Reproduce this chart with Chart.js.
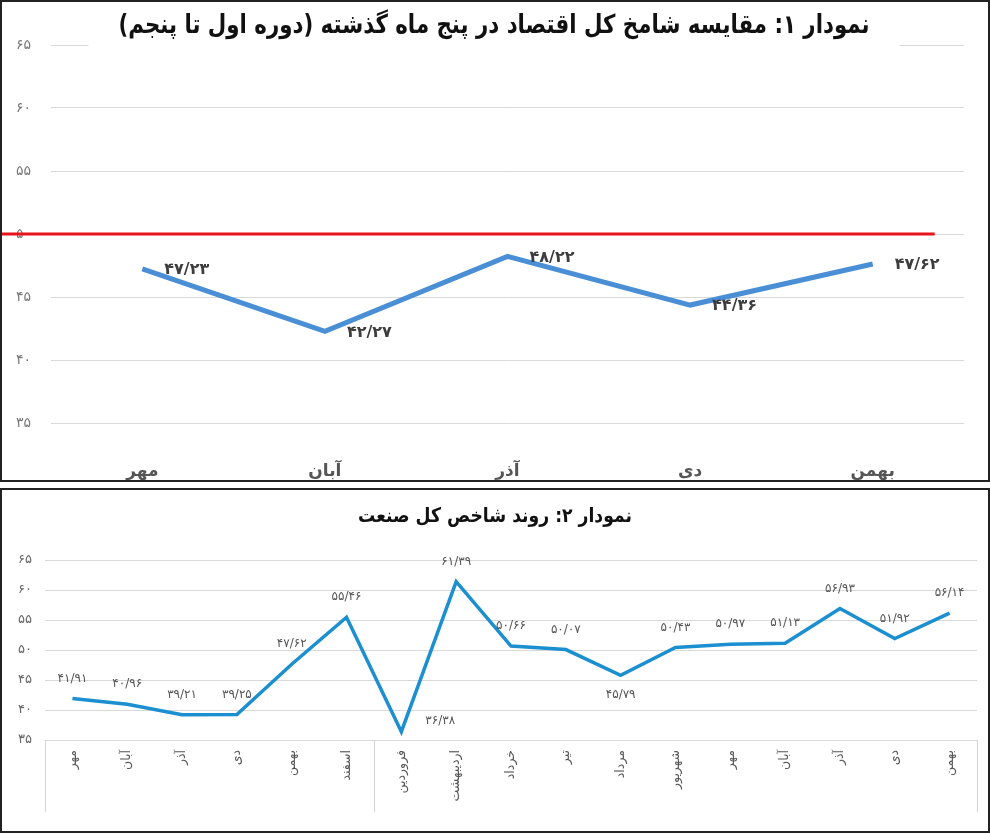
<!DOCTYPE html>
<html lang="fa">
<head>
<meta charset="utf-8">
<script src="https://cdn.jsdelivr.net/npm/chart.js@4.4.1/dist/chart.umd.min.js"></script>
<style>
  html, body { margin: 0; padding: 0; background: #fff; }
  .box { position: absolute; left: 0; width: 986px; border: 2px solid #222; background: #fff; }
  #box1 { top: 0; height: 478px; }
  #box2 { top: 488px; height: 341px; }
  canvas { display: block; }
</style>
</head>
<body>
<div class="box" id="box1"><canvas id="chart1" width="986" height="478"></canvas></div>
<div class="box" id="box2"><canvas id="chart2" width="986" height="341"></canvas></div>
<script>
const title1 = 'نمودار ۱: مقایسه شامخ کل اقتصاد در پنج ماه گذشته (دوره اول تا پنجم)';
const months1 = ['مهر', 'آبان', 'آذر', 'دی', 'بهمن'];
const values1 = [47.23, 42.27, 48.22, 44.36, 47.62];
const threshold1 = 50;

const title2 = 'نمودار ۲: روند شاخص کل صنعت';
const months2 = ['مهر', 'آبان', 'آذر', 'دی', 'بهمن', 'اسفند', 'فروردین', 'اردیبهشت', 'خرداد', 'تیر', 'مرداد', 'شهریور', 'مهر', 'آبان', 'آذر', 'دی', 'بهمن'];
const values2 = [41.91, 40.96, 39.21, 39.25, 47.62, 55.46, 36.38, 61.39, 50.66, 50.07, 45.79, 50.43, 50.97, 51.13, 56.93, 51.92, 56.14];
const labelPos2 = ['top', 'top', 'top', 'top', 'top', 'top', 'right', 'top', 'top', 'top', 'bottom', 'top', 'top', 'top', 'top', 'top', 'top'];
const yearBreak2 = 6; // فروردین starts the new year

const FONT = "'DejaVu Sans', 'Noto Sans', sans-serif";
const fa = s => String(s).replace(/\d/g, d => '۰۱۲۳۴۵۶۷۸۹'[d]);
const faNum = v => fa(v.toFixed(2).replace('.', '/'));

// title drawn on a white box that hides the top gridline (squeezed to look condensed)
const boxTitle = {
  id: 'boxTitle',
  afterDraw(chart, args, opts) {
    const ctx = chart.ctx;
    ctx.save();
    ctx.font = opts.font;
    ctx.direction = 'rtl';
    ctx.textAlign = 'center';
    ctx.textBaseline = 'middle';
    const w = ctx.measureText(opts.text).width * opts.sx;
    ctx.fillStyle = '#fff';
    ctx.fillRect(opts.x - w / 2 - 30, opts.y - opts.h / 2, w + 60, opts.h);
    ctx.translate(opts.x, opts.y);
    ctx.scale(opts.sx, 1);
    ctx.fillStyle = '#111';
    ctx.fillText(opts.text, 0, 0);
    ctx.restore();
  }
};

const pointLabels = {
  id: 'pointLabels',
  afterDatasetsDraw(chart, args, opts) {
    const ctx = chart.ctx;
    const meta = chart.getDatasetMeta(0);
    const data = chart.data.datasets[0].data;
    ctx.save();
    ctx.font = opts.font;
    ctx.fillStyle = opts.color;
    ctx.textBaseline = 'middle';
    meta.data.forEach((pt, i) => {
      const pos = opts.positions ? opts.positions[i] : 'right';
      const txt = faNum(data[i]);
      if (pos === 'right') { ctx.textAlign = 'left'; ctx.fillText(txt, pt.x + opts.dx, pt.y + opts.ry); }
      else if (pos === 'bottom') { ctx.textAlign = 'center'; ctx.fillText(txt, pt.x, pt.y + opts.dy); }
      else { ctx.textAlign = 'center'; ctx.fillText(txt, pt.x, pt.y - opts.dy); }
    });
    ctx.restore();
  }
};

const refLine = {
  id: 'refLine',
  beforeDatasetsDraw(chart, args, opts) {
    if (opts.value === undefined) return;
    const y = chart.scales.y.getPixelForValue(opts.value);
    const x = chart.scales.x;
    const ctx = chart.ctx;
    ctx.save();
    ctx.strokeStyle = '#e8141c';
    ctx.lineWidth = 3;
    ctx.beginPath();
    ctx.moveTo(0, y);
    ctx.lineTo(x.getPixelForValue(x.ticks.length - 1) + 62, y);
    ctx.stroke();
    ctx.restore();
  }
};

const groupLines = {
  id: 'groupLines',
  afterDraw(chart, args, opts) {
    if (opts.breakAt === undefined) return;
    const x = chart.scales.x;
    const ctx = chart.ctx;
    const top = chart.chartArea.bottom;
    const half = (x.getPixelForValue(1) - x.getPixelForValue(0)) / 2;
    const xs = [x.left, x.getPixelForValue(opts.breakAt) - half, x.right];
    ctx.save();
    ctx.strokeStyle = '#d4d4d4';
    ctx.lineWidth = 1;
    xs.forEach(px => {
      ctx.beginPath();
      ctx.moveTo(Math.round(px) + 0.5, top);
      ctx.lineTo(Math.round(px) + 0.5, top + opts.length);
      ctx.stroke();
    });
    ctx.restore();
  }
};

new Chart(document.getElementById('chart1'), {
  type: 'line',
  data: {
    labels: months1,
    datasets: [{ data: values1, borderColor: '#4a8fd6', borderWidth: 5, pointRadius: 0, tension: 0 }]
  },
  options: {
    responsive: false,
    animation: false,
    layout: { padding: { top: 43, right: 24, left: 0, bottom: 0 } },
    plugins: {
      legend: { display: false },
      tooltip: { enabled: false },
      boxTitle: { text: title1, font: "bold 26px " + FONT, sx: 0.82, x: 492, y: 24, h: 44 },
      pointLabels: { font: "bold 16px " + FONT, color: '#3d3d3d', dx: 22, dy: 20, ry: 1 },
      refLine: { value: threshold1 }
    },
    scales: {
      x: {
        offset: true,
        grid: { display: false },
        border: { display: false },
        ticks: { font: { family: FONT, size: 17, weight: 'bold' }, color: '#555', padding: 30 },
        afterFit: s => { s.height = 57; }
      },
      y: {
        min: 35, max: 65,
        grid: { color: '#d9d9d9', drawTicks: false },
        border: { display: false },
        ticks: { stepSize: 5, font: { family: FONT, size: 14 }, color: '#777', padding: 20, callback: v => fa(v) },
        afterFit: s => { s.width = 49; }
      }
    }
  },
  plugins: [refLine, pointLabels, boxTitle]
});

new Chart(document.getElementById('chart2'), {
  type: 'line',
  data: {
    labels: months2,
    datasets: [{ data: values2, borderColor: '#1b8fcf', borderWidth: 3.5, pointRadius: 0, tension: 0 }]
  },
  options: {
    responsive: false,
    animation: false,
    layout: { padding: { top: 70, right: 11, left: 0, bottom: 0 } },
    plugins: {
      legend: { display: false },
      tooltip: { enabled: false },
      boxTitle: { text: title2, font: "bold 20px " + FONT, sx: 0.86, x: 493, y: 27, h: 30 },
      pointLabels: { font: "12px " + FONT, color: '#555', dx: 24, dy: 20, ry: -11, positions: labelPos2 },
      groupLines: { breakAt: yearBreak2, length: 72 }
    },
    scales: {
      x: {
        offset: true,
        grid: { display: false },
        border: { display: false },
        ticks: { font: { family: FONT, size: 12.5 }, color: '#555', padding: 2, minRotation: 90, maxRotation: 90, autoSkip: false },
        afterFit: s => { s.height = 91; }
      },
      y: {
        min: 35, max: 65,
        grid: { color: '#d9d9d9', drawTicks: false },
        border: { display: false },
        ticks: { stepSize: 5, font: { family: FONT, size: 13 }, color: '#666', padding: 13, callback: v => fa(v) },
        afterFit: s => { s.width = 43; }
      }
    }
  },
  plugins: [pointLabels, groupLines, boxTitle]
});
</script>
</body>
</html>
